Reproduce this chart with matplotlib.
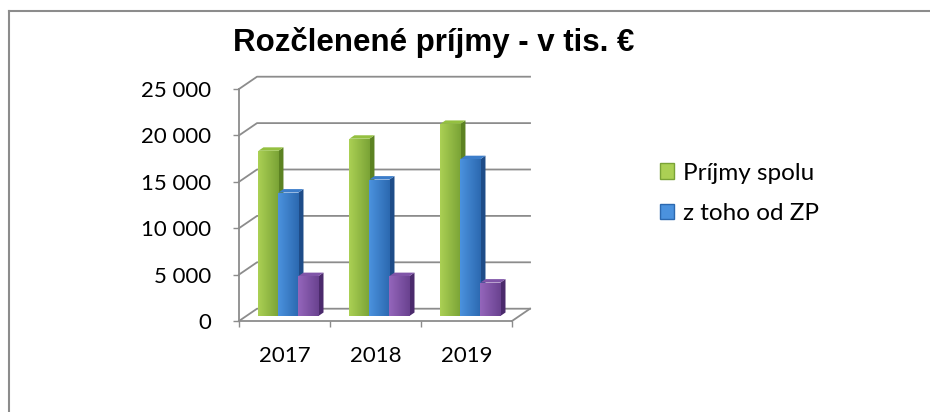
import numpy as np
import matplotlib.pyplot as plt
from matplotlib.patches import Polygon, Rectangle, Patch
from matplotlib.lines import Line2D
from matplotlib.colors import LinearSegmentedColormap
from matplotlib.ticker import FuncFormatter

years = ['2017', '2018', '2019']
prijmy_spolu = [17800, 19100, 20700]
od_zp = [13300, 14700, 16900]
ostatne = [4300, 4300, 3600]
series = [prijmy_spolu, od_zp, ostatne]
legend_labels = ['Príjmy spolu', 'z toho od ZP']

front_light = ['#abd054', '#4b92de', '#9466bb']
front_dark = ['#7aa336', '#2c69b0', '#6a4290']
side_col = ['#5c8222', '#1e4c88', '#4b2a6c']
top_col = ['#94c040', '#3c7dca', '#8055a8']
grid_col = '#8c8c8c'

# fake 3d: floor depth in data units, bar placement inside the floor
DX, DY = 0.198, 1325
Z0, DEPTH = 0.41, 0.28
BW = 0.22
OFF = -0.368

plt.rcParams['font.family'] = ['Lato', 'DejaVu Sans']

fig = plt.figure(figsize=(9.3, 4.12), dpi=100)
ax = fig.add_axes([239 / 930, 91 / 412, 273 / 930, 232 / 412])
ax.set_facecolor('none')

yticks = np.arange(0, 25001, 5000)

# back wall gridlines + left wall diagonals
for y in yticks:
    ax.plot([-0.5, -0.5 + DX, 2.5 + DX], [y, y + DY, y + DY],
            color=grid_col, lw=1.3, clip_on=False, zorder=1)
ax.plot([2.5, 2.5 + DX], [0, DY], color=grid_col, lw=1.3, clip_on=False, zorder=1)

grad = np.linspace(0, 1, 64).reshape(1, -1)
for i, vals in enumerate(series):
    cmap = LinearSegmentedColormap.from_list('g%d' % i, [front_light[i], front_dark[i]])
    for c, v in enumerate(vals):
        x0 = c + OFF + i * BW + Z0 * DX
        y0 = Z0 * DY
        dx, dy = DEPTH * DX, DEPTH * DY
        zo = 3 + i
        side = Polygon([(x0 + BW, y0), (x0 + BW + dx, y0 + dy),
                        (x0 + BW + dx, y0 + v + dy), (x0 + BW, y0 + v)],
                       facecolor=side_col[i], edgecolor='none', zorder=zo, clip_on=False)
        top = Polygon([(x0, y0 + v), (x0 + BW, y0 + v),
                       (x0 + BW + dx, y0 + v + dy), (x0 + dx, y0 + v + dy)],
                      facecolor=top_col[i], edgecolor='none', zorder=zo, clip_on=False)
        front = Rectangle((x0, y0), BW, v, facecolor='none', edgecolor='none', zorder=zo)
        ax.add_patch(side)
        ax.add_patch(top)
        ax.add_patch(front)
        im = ax.imshow(grad, cmap=cmap, extent=(x0, x0 + BW, y0, y0 + v),
                       aspect='auto', zorder=zo, interpolation='bilinear')
        im.set_clip_path(front)

ax.set_xlim(-0.5, 2.5)
ax.set_ylim(0, 25000)

for s in ['top', 'right']:
    ax.spines[s].set_visible(False)
for s in ['left', 'bottom']:
    ax.spines[s].set_color(grid_col)
    ax.spines[s].set_linewidth(1.3)

ax.set_yticks(yticks)
ax.yaxis.set_major_formatter(FuncFormatter(lambda v, p: f'{int(v):,}'.replace(',', ' ')))
ax.tick_params(axis='y', length=4.3, width=1, color=grid_col, pad=16, labelsize=16)

ax.set_xticks(range(len(years)))
ax.set_xticklabels(years)
ax.set_xticks(np.arange(-0.5, 2.6, 1), minor=True)
ax.tick_params(axis='x', which='major', length=0, pad=18, labelsize=16)
ax.tick_params(axis='x', which='minor', length=4.3, width=1, color=grid_col)

fig.text(434 / 930, 1 - 43 / 412, 'Rozčlenené príjmy - v tis. €', ha='center', va='center',
         fontsize=22.5, fontweight='bold', family='Liberation Sans')

handles = [Patch(facecolor=front_light[i], edgecolor=front_dark[i]) for i in range(2)]
fig.legend(handles, legend_labels, loc='upper left', bbox_to_anchor=(650 / 930, 1 - 153 / 412),
           frameon=False, fontsize=17.5, handlelength=0.6, handleheight=0.6,
           handletextpad=0.35, labelspacing=0.8, borderaxespad=0)

# chart border (only top and left visible)
fig.add_artist(Line2D([9 / 930, 1], [1 - 11 / 412, 1 - 11 / 412], color=grid_col, lw=1.5))
fig.add_artist(Line2D([9 / 930, 9 / 930], [0, 1 - 11 / 412], color=grid_col, lw=1.5))

fig.savefig('out.png', dpi=100)
